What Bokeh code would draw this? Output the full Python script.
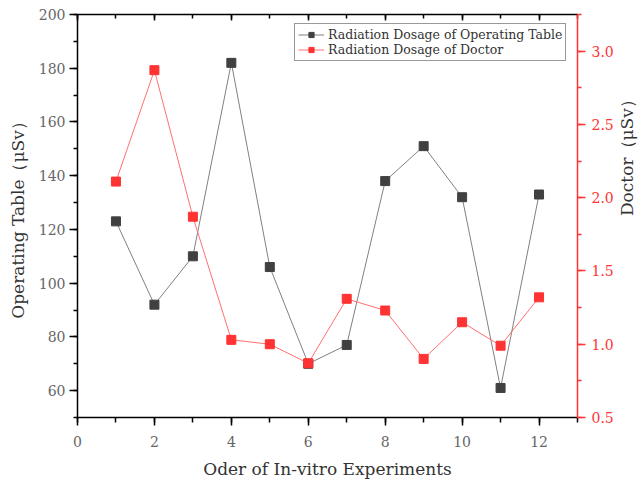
import math
from bokeh.plotting import figure
from bokeh.models import (Range1d, LinearAxis, SingleIntervalTicker, Legend, LegendItem,
                          NumeralTickFormatter)
from bokeh.embed import file_html
from bokeh.resources import INLINE

experiments = [1, 2, 3, 4, 5, 6, 7, 8, 9, 10, 11, 12]
table_dose = [123, 92, 110, 182, 106, 70, 77, 138, 151, 132, 61, 133]
doctor_dose = [2.11, 2.87, 1.87, 1.03, 1.00, 0.87, 1.31, 1.23, 0.90, 1.15, 0.99, 1.32]

FONT = "DejaVu Serif"
RED = "#FF3333"
GRAY_TXT = "#666666"
LABEL_TXT = "#333333"

p = figure(frame_width=500, frame_height=403, output_backend="svg", toolbar_location=None,
           x_range=Range1d(0, 13), y_range=Range1d(50, 200),
           min_border_left=77, min_border_right=10, min_border_top=14, min_border_bottom=40)
p.outline_line_color = None
p.grid.visible = False
p.background_fill_color = "white"
p.border_fill_color = "white"
p.extra_y_ranges = {"doc": Range1d(0.5, 3.25)}

# bottom axis
xa = p.xaxis[0]
xa.ticker = SingleIntervalTicker(interval=2, num_minor_ticks=2)
xa.axis_label = "Oder of In-vitro Experiments"
# left axis
ya = p.yaxis[0]
ya.ticker = SingleIntervalTicker(interval=20, num_minor_ticks=2)
ya.axis_label = "Operating Table（μSv）"

for ax in (xa, ya):
    ax.axis_line_color = "black"
    ax.axis_line_width = 1.5
    ax.major_tick_line_color = "black"
    ax.minor_tick_line_color = "black"
    ax.major_tick_line_width = 1.5
    ax.minor_tick_line_width = 1.5
    ax.major_tick_in = 0
    ax.minor_tick_in = 0
    ax.major_label_text_font = FONT
    ax.major_label_text_font_size = "14px"
    ax.major_label_text_color = GRAY_TXT
    ax.axis_label_text_font = FONT
    ax.axis_label_text_font_size = "17px"
    ax.axis_label_text_font_style = "normal"
    ax.axis_label_text_color = LABEL_TXT
xa.major_tick_out = 8
xa.minor_tick_out = 5
xa.major_label_standoff = 10
xa.axis_label_standoff = 9
ya.major_tick_out = 8
ya.minor_tick_out = 4
ya.major_label_standoff = 4
ya.axis_label_standoff = 8

# right axis
ra = LinearAxis(y_range_name="doc", ticker=SingleIntervalTicker(interval=0.5, num_minor_ticks=2),
                axis_label="Doctor（μSv）", formatter=NumeralTickFormatter(format="0.0"))
ra.axis_line_color = RED
ra.axis_line_width = 1.5
ra.major_tick_line_color = RED
ra.minor_tick_line_color = RED
ra.major_tick_line_width = 1.5
ra.minor_tick_line_width = 1.5
ra.major_tick_out = 8
ra.major_tick_in = 0
ra.minor_tick_out = 4
ra.minor_tick_in = 0
ra.major_label_standoff = 6
ra.major_label_text_font = FONT
ra.major_label_text_font_size = "14px"
ra.major_label_text_color = RED
ra.axis_label_text_font = FONT
ra.axis_label_text_font_size = "17px"
ra.axis_label_text_font_style = "normal"
ra.axis_label_text_color = LABEL_TXT
ra.axis_label_standoff = 10
try:
    ra.axis_label_orientation = math.pi / 2
except Exception:
    pass
p.add_layout(ra, "right")

# top axis (ticks only, pointing inward, no labels)
ta = LinearAxis(ticker=SingleIntervalTicker(interval=2, num_minor_ticks=2))
ta.axis_line_color = "black"
ta.axis_line_width = 1.5
ta.major_tick_line_color = "black"
ta.minor_tick_line_color = "black"
ta.major_tick_line_width = 1.5
ta.minor_tick_line_width = 1.5
ta.major_tick_in = 6
ta.major_tick_out = 0
ta.minor_tick_in = 4
ta.minor_tick_out = 0
ta.major_label_text_font_size = "1px"
ta.major_label_text_color = None
ta.major_label_standoff = 0
p.add_layout(ta, "above")

l1 = p.line(experiments, table_dose, line_color="#808080", line_width=1)
s1 = p.scatter(experiments, table_dose, marker="square", size=9, fill_color="#404040",
               line_color="#404040")
l2 = p.line(experiments, doctor_dose, line_color="#FF7070", line_width=1, y_range_name="doc")
s2 = p.scatter(experiments, doctor_dose, marker="square", size=9, fill_color=RED,
               line_color=RED, y_range_name="doc")

legend = Legend(items=[
    LegendItem(label="Radiation Dosage of Operating Table", renderers=[l1, s1]),
    LegendItem(label="Radiation Dosage of Doctor", renderers=[l2, s2]),
], location=(217, 356))
legend.label_text_font = FONT
legend.label_text_font_size = "12.5px"
legend.label_text_color = LABEL_TXT
legend.border_line_color = "#333333"
legend.border_line_width = 1
legend.padding = 3
legend.spacing = 0
legend.margin = 0
legend.label_height = 13
legend.glyph_height = 13
legend.glyph_width = 26
legend.label_standoff = 4
legend.background_fill_alpha = 1
p.add_layout(legend)

open("out.html", "w").write(file_html(p, INLINE))
